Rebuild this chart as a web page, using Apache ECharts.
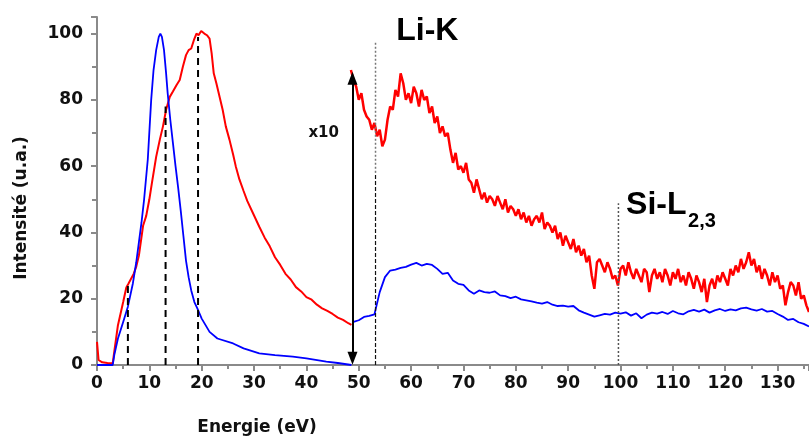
<!DOCTYPE html>
<html>
<head>
<meta charset="utf-8">
<script src="https://cdn.jsdelivr.net/npm/echarts@6/dist/echarts.min.js"></script>
<style>html,body{margin:0;padding:0;background:#fff}#c{width:809px;height:438px}</style>
</head>
<body>
<div id="c"></div>
<script>
// ---- Low-loss region (0 - 48.6 eV), true scale ----
const lowRedE = [0,0.3,1,2,3,3.3,4,5,5.6,6,7,7.5,8,8.8,9.4,10,10.5,11.3,12,12.6,13.2,13.9,14.5,15.2,15.8,16.4,17,17.5,18,18.5,19,19.4,19.9,20.5,21,21.5,21.9,22.3,22.8,23.4,24,24.6,25.3,26,26.5,27.2,28,28.7,29.8,31,32,33,34,35,36,37,38,39,40,41,42,43,44,45,46,47,48,48.6];
const lowRedI = [7,1.5,0.8,0.6,0.5,4,12,19,23.4,24.5,27.5,29.7,33,42,45,50,55,62.8,68,72,77,80.9,82.5,84.5,86,90,93.5,95,95.5,98,100,99.5,100.8,100,99.5,98.5,94,88,85,81,77,72,68,63.5,60,56,52.5,49.5,45.8,41.7,38.5,35.8,32.5,30.2,27.5,25.8,23.5,22.2,20.5,19.7,18.2,17.1,16.3,15.4,14.3,13.6,12.6,12.1];
const lowBlueE = [0,1,2,3,3.3,4,5,5.9,6.85,7.5,8,8.5,9,9.7,10.35,10.8,11.3,11.8,12.1,12.4,12.8,13.2,13.5,14,14.5,15,15.5,16,16.5,17,17.5,18,18.6,19.3,20,21.5,23,26,28,31,34,37.4,40,43.8,46,48.6];
const lowBlueI = [0,0,0,0,3,8,13,17.6,24.6,31,37,43,50,62,80,89,95,99,100,99,95,88,82,74,67,60,53.5,46.5,39,31.5,26.5,22.5,19,16.6,14,10,8,6.5,5,3.5,3,2.5,2,1,0.6,0];

// ---- Core-loss region (x10), channel grid ----
const hiRedStart = 48.5, hiRedStep = 0.5;
const hiRedI = [89,
 86,84, 80,82, 77,75, 74,71, 73,69, 71,66, 68,74, 78,77, 83,81, 88,85,
 80,82, 79,84, 82,78, 83,80, 81,76, 78,73, 75,70, 72,69, 70,65, 61,64,
 59,60, 58,61, 56,55, 52,56, 53,50, 52,49, 51,50, 48,51, 49,47, 50,46,
 48,47, 45,47, 44,46, 43,45, 42,44, 45,43, 46,41, 43,42, 40,42, 38,40,
 36,39, 37,35, 38,34, 36,33, 35,31, 33,27, 23,31, 32,30, 28,31, 29,26,
 27,24, 29,30, 27,31, 28,26, 29,27, 25,29, 28,22, 27,29, 26,28, 25,29,
 27,24, 28,26, 29,25, 27,24, 28,26, 23,27, 25,22, 26,19, 24,26, 23,27,
 25,28, 26,24, 29,27, 30,28, 32,29, 31,34, 30,32, 28,30, 26,29, 27,24,
 28,25, 27,23, 24,18, 22,25, 24,21, 25,20, 21,18, 16];
const hiBlueStart = 49, hiBlueStep = 1;
const hiBlueI = [13,13.5,14.5,14.8,15.3,22,26.5,28.5,28.8,29.3,29.6,30.3,30.8,30,30.5,30.2,29,27.5,27.8,25.5,24.5,24.2,22.5,21.5,22.5,22,21.8,22.2,21,20.8,20.2,20.6,19.8,19.5,19.2,18.8,18.5,19,18.2,17.8,17.9,17.6,17.8,16.5,15.8,15.2,14.6,15,15.4,15.2,15.8,15.5,15.9,14.9,15.6,14.1,15.2,15.8,15.5,16,15.4,16.3,15.6,15.3,16.2,16.6,16.1,16.7,15.8,16.5,16.9,16.3,16.8,16.5,17.1,17.3,16.8,16.4,16.9,16.1,16.3,15.4,14.6,13.6,13.9,12.9,12.4,11.6];

// ---- Annotations ----
const peakDashE = [5.9, 13.1, 19.3];
const peakDashTop = [24, 78, 99];
const edgeLiE = 53.2, edgeLiSplit = 58, edgeLiTop = 97.5;
const edgeSiE = 99.6, edgeSiTop = 48.8;
const arrowE = 48.8, arrowBottom = 0, arrowTop = 88.5;

const xTicks = [0,10,20,30,40,50,60,70,80,90,100,110,120,130];
const yTicks = [0,20,40,60,80,100];

function pairs(xs, ys){ return xs.map((x,i)=>[x, ys[i]]); }
function grid(start, step, ys){ return ys.map((y,i)=>[+(start+i*step).toFixed(2), y]); }

const series = [];
series.push({type:'line', name:'red-low', data:pairs(lowRedE, lowRedI), showSymbol:false, symbol:'none',
  lineStyle:{color:'#ff0000', width:2}, z:3});
series.push({type:'line', name:'blue-low', data:pairs(lowBlueE, lowBlueI), showSymbol:false, symbol:'none',
  lineStyle:{color:'#0000ff', width:1.8}, z:4});
series.push({type:'line', name:'red-hi', data:grid(hiRedStart, hiRedStep, hiRedI), showSymbol:false, symbol:'none',
  lineStyle:{color:'#ff0000', width:2.5}, z:3});
series.push({type:'line', name:'blue-hi', data:grid(hiBlueStart, hiBlueStep, hiBlueI), showSymbol:false, symbol:'none',
  lineStyle:{color:'#0000ff', width:1.8}, z:4});

peakDashE.forEach((e,i)=>{
  series.push({type:'line', data:[[e,0],[e,peakDashTop[i]]], symbol:'none', silent:true,
    lineStyle:{color:'#000', width:2, type:[7,5]}, z:5});
});
series.push({type:'line', data:[[edgeLiE,0],[edgeLiE,edgeLiSplit]], symbol:'none', silent:true,
  lineStyle:{color:'#111', width:1.2, type:[4,2]}, z:5});
series.push({type:'line', data:[[edgeLiE,edgeLiSplit],[edgeLiE,edgeLiTop]], symbol:'none', silent:true,
  lineStyle:{color:'#777', width:1.5, type:[2,2]}, z:5});
series.push({type:'line', data:[[edgeSiE,0],[edgeSiE,edgeSiTop]], symbol:'none', silent:true,
  lineStyle:{color:'#555', width:1.5, type:[2,2]}, z:5});
series.push({type:'line', data:[], symbol:'none', silent:true,
  markLine:{silent:true, symbol:['triangle','triangle'], symbolSize:[10,13],
    label:{show:false}, lineStyle:{color:'#000', width:2, type:'solid'},
    data:[[{coord:[arrowE,arrowBottom+2]},{coord:[arrowE,arrowTop-2]}]]}, z:6});

const chart = echarts.init(document.getElementById('c'), null, {renderer:'canvas'});
const axisGray = '#8a8a8a';
chart.setOption({
  animation:false,
  grid:{left:97, right:0, top:17, bottom:73, containLabel:false},
  xAxis:{type:'value', min:0, max:136, interval:10,
    axisLine:{show:true, lineStyle:{color:axisGray, width:2}},
    axisTick:{show:true, length:6, lineStyle:{color:axisGray, width:2}},
    minorTick:{show:true, splitNumber:2, length:4, lineStyle:{color:axisGray, width:2}},
    splitLine:{show:false},
    axisLabel:{margin:10, color:'#111', fontFamily:'DejaVu Sans', fontWeight:'bold', fontSize:17,
      showMaxLabel:false, formatter:v=> xTicks.includes(v) ? String(v) : ''}},
  yAxis:{type:'value', min:0, max:105, interval:20,
    axisLine:{show:true, lineStyle:{color:axisGray, width:2}},
    axisTick:{show:true, length:6, lineStyle:{color:axisGray, width:2}},
    minorTick:{show:true, splitNumber:2, length:5, lineStyle:{color:axisGray, width:2}},
    splitLine:{show:false},
    axisLabel:{margin:14, color:'#111', fontFamily:'DejaVu Sans', fontWeight:'bold', fontSize:17,
      showMaxLabel:false, formatter:v=> yTicks.includes(v) ? String(v) : ''}},
  series: series
});

function px(p){ return chart.convertToPixel({gridIndex:0}, p); }
const liK = px([63.1, 100.7]);
const siJ = px([112.6, 48.3]);
const subJ = px([112.9, 43.4]);
const x10 = px([43.3, 70]);
const bigFont = 'bold 32px "Liberation Sans Narrow", "Liberation Sans", sans-serif';
chart.setOption({
  graphic:[
    {type:'text', x:22, y:208, rotation:Math.PI/2, style:{text:'Intensité (u.a.)', font:'bold 17px "DejaVu Sans"', fill:'#111', textAlign:'center', textVerticalAlign:'middle'}},
    {type:'text', x:257, y:428, style:{text:'Energie (eV)', font:'bold 17px "DejaVu Sans"', fill:'#111', textAlign:'center', textVerticalAlign:'middle'}},
    {type:'text', x:liK[0], y:liK[1], style:{text:'Li-K', font:bigFont, fill:'#000', textAlign:'center', textVerticalAlign:'middle'}},
    {type:'text', x:siJ[0], y:siJ[1], style:{text:'Si-L', font:bigFont, fill:'#000', textAlign:'right', textVerticalAlign:'middle'}},
    {type:'text', x:subJ[0], y:subJ[1], style:{text:'2,3', font:'bold 20px "Liberation Sans Narrow", "Liberation Sans", sans-serif', fill:'#000', textAlign:'left', textVerticalAlign:'middle'}},
    {type:'text', x:x10[0], y:x10[1], style:{text:'x10', font:'bold 15px "DejaVu Sans"', fill:'#111', textAlign:'center', textVerticalAlign:'middle'}}
  ]
});
</script>
</body>
</html>
